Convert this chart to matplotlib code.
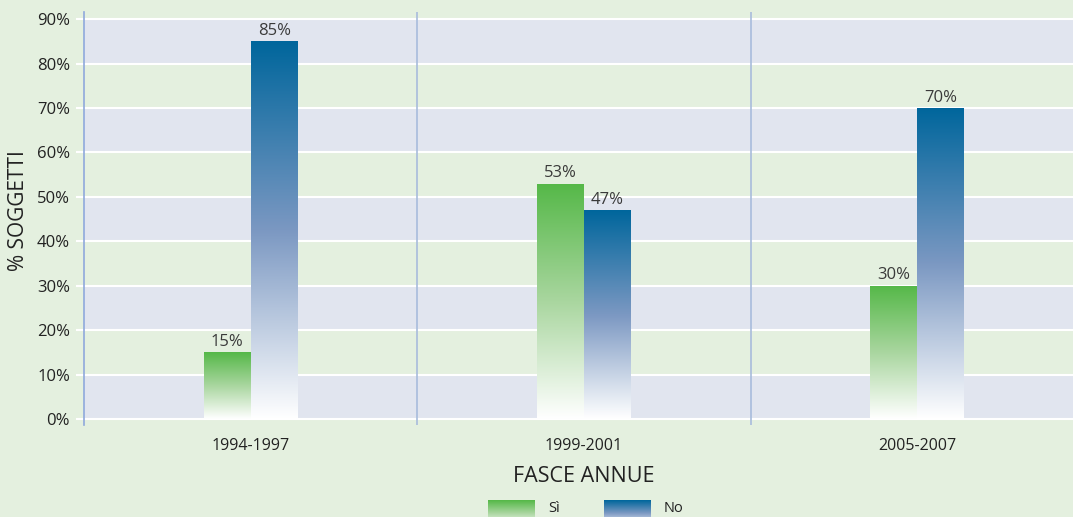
import numpy as np
import matplotlib
matplotlib.use("Agg")
import matplotlib.pyplot as plt
from matplotlib.colors import LinearSegmentedColormap

categories = ["1994-1997", "1999-2001", "2005-2007"]
si_vals = [15, 53, 30]
no_vals = [85, 47, 70]
series_names = ["Sì", "No"]

bg = "#e4f0df"
band = "#e1e5ef"
text_col = "#222222"

plt.rcParams['font.family'] = ['Open Sans', 'DejaVu Sans']

green_cm = LinearSegmentedColormap.from_list("g", ["#ffffff", "#a9d69f", "#55b848"])
blue_cm = LinearSegmentedColormap.from_list("b", ["#ffffff", "#7b98c2", "#00669c"])

fig = plt.figure(figsize=(10.73, 5.17), dpi=100, facecolor=bg)
W, H = 1073, 517
ax = fig.add_axes([84 / W, (H - 425) / H, 1000 / W, 413 / H])
ax.set_facecolor("none")

# background bands and white grid
for lo in range(0, 90, 20):
    ax.axhspan(lo, lo + 10, color=band, lw=0, zorder=0)
for y in range(0, 100, 10):
    ax.axhline(y, color="white", lw=1.5, zorder=1)
for xs in [0.5, 1.5]:
    ax.axvline(xs, color="#a8bcdc", lw=1.2, zorder=1)

grad = np.linspace(0, 1, 256).reshape(-1, 1)
w = 0.141
x = np.arange(len(categories))

def grad_bars(xpos, vals, cmap):
    bars = ax.bar(xpos, vals, width=w, color="none", lw=0, zorder=2)
    for b, v in zip(bars, vals):
        x0 = b.get_x()
        im = ax.imshow(grad, cmap=cmap, origin="lower", aspect="auto",
                       extent=[x0, x0 + w, 0, v], zorder=2)
        im.set_clip_path(b)
        ax.text(x0 + w / 2, v + 0.5, f"{v}%", ha="center", va="bottom",
                fontsize=12, color="#3a3a3a", zorder=3)

grad_bars(x - w / 2, si_vals, green_cm)
grad_bars(x + w / 2, no_vals, blue_cm)
ax.set_xlim(-0.5, 2.5)
ax.set_ylim(-1.35, 91.6)

ax.set_yticks(range(0, 100, 10))
ax.set_yticklabels([f"{v}%" for v in range(0, 100, 10)], fontsize=12, color=text_col)
ax.set_xticks(x)
ax.set_xticklabels(categories, fontsize=11.5, color=text_col)
ax.tick_params(axis="y", length=6, color="white", width=1.5, pad=4)
ax.tick_params(axis="x", length=0, pad=9)
for s in ["top", "right", "bottom"]:
    ax.spines[s].set_visible(False)
ax.spines["left"].set_color("#8fa9dc")
ax.spines["left"].set_linewidth(1.2)

ax.set_xlabel("FASCE ANNUE", fontsize=15.5, color=text_col, labelpad=9)
fig.text(19 / W, 1 - 211 / H, "% SOGGETTI", rotation=90, fontsize=15,
         color=text_col, ha="center", va="center")

# legend
for i, (name, cmap) in enumerate(zip(series_names, [green_cm, blue_cm])):
    lx = 488 + i * 116
    lax = fig.add_axes([lx / W, 0, 47 / W, 17 / H])
    lax.imshow(np.linspace(0.35, 1, 64).reshape(-1, 1), cmap=cmap,
               origin="lower", aspect="auto", vmin=0, vmax=1)
    lax.set_axis_off()
    fig.text((lx + 60) / W, 1 - 509 / H, name, fontsize=10.5, color=text_col,
             va="center", ha="left")

fig.savefig("out.png", dpi=100, facecolor=bg)
